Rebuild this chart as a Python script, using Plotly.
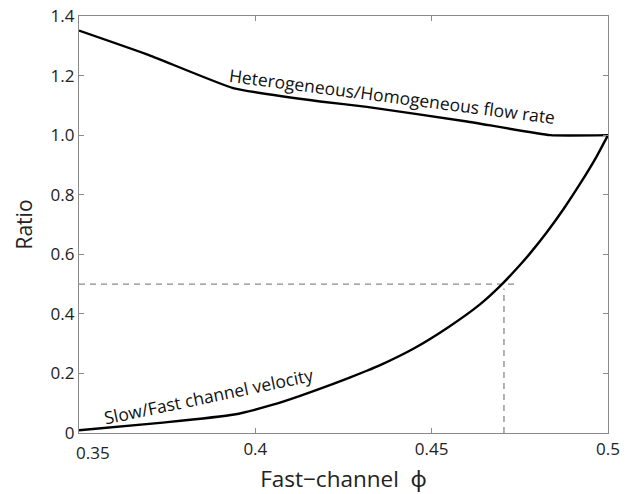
import plotly.graph_objects as go

# Heterogeneous/Homogeneous flow rate ratio
flow_x = [0.35, 0.37, 0.3937, 0.4184, 0.4316, 0.46, 0.4836, 0.5]
flow_y = [1.351, 1.268, 1.158, 1.113, 1.095, 1.046, 1.0, 1.0]

# Slow/Fast channel velocity ratio
vel_x = [0.35, 0.373, 0.394, 0.405, 0.4127, 0.4221, 0.4316, 0.4354, 0.4448,
         0.4543, 0.4637, 0.4699, 0.4751, 0.4779, 0.4826, 0.4874, 0.4921,
         0.4968, 0.5]
vel_y = [0.009, 0.034, 0.062, 0.095, 0.125, 0.165, 0.209, 0.228, 0.283,
         0.352, 0.432, 0.499, 0.565, 0.603, 0.673, 0.752, 0.837,
         0.929, 1.0]

# reference dashed lines
ref_h_x = [0.35, 0.4737]
ref_h_y = [0.5, 0.5]
ref_v_x = [0.4705, 0.4705]
ref_v_y = [0.0, 0.485]

x_ticks = [0.35, 0.4, 0.45, 0.5]
x_tick_text = ["0.35", "0.4", "0.45", "0.5"]
y_ticks = [0, 0.2, 0.4, 0.6, 0.8, 1.0, 1.2, 1.4]
y_tick_text = ["0", "0.2", "0.4", "0.6", "0.8", "1.0", "1.2", "1.4"]

font_family = "Open Sans, Noto Sans, sans-serif"
tick_font = dict(family=font_family, size=17, color="#222")

fig = go.Figure()
fig.add_trace(go.Scatter(x=ref_h_x, y=ref_h_y, mode="lines",
                         line=dict(color="#8a8a8a", width=1.3, dash="6px,5px"),
                         hoverinfo="skip"))
fig.add_trace(go.Scatter(x=ref_v_x, y=ref_v_y, mode="lines",
                         line=dict(color="#8a8a8a", width=1.3, dash="6px,5px"),
                         hoverinfo="skip"))
fig.add_trace(go.Scatter(x=flow_x, y=flow_y, mode="lines",
                         line=dict(color="black", width=2.4, shape="spline", smoothing=0.4)))
fig.add_trace(go.Scatter(x=vel_x, y=vel_y, mode="lines",
                         line=dict(color="black", width=2.4, shape="spline", smoothing=0.6)))

fig.add_annotation(x=0.4388, y=1.133, xref="x", yref="y",
                   text="Heterogeneous/Homogeneous flow rate", showarrow=False,
                   textangle=7.4, font=dict(family=font_family, size=17.5, color="#111"))
fig.add_annotation(x=0.3866, y=0.124, xref="x", yref="y",
                   text="Slow/Fast channel velocity", showarrow=False,
                   textangle=-11.8, font=dict(family=font_family, size=17.5, color="#111"))

# first x tick label sits right of its tick in the reference
fig.add_annotation(x=x_ticks[0], y=0, xref="x", yref="paper",
                   xanchor="left", yanchor="top", xshift=-5, yshift=-6,
                   text=x_tick_text[0], showarrow=False, font=tick_font)

axis_common = dict(showgrid=False, zeroline=False, showline=True, linecolor="#8a8a8a",
                   linewidth=1.2, mirror="allticks", ticks="inside", ticklen=5,
                   tickcolor="#8a8a8a", tickwidth=1, automargin=False,
                   tickfont=tick_font)

fig.update_layout(
    width=627, height=494,
    margin=dict(l=79, r=19, t=16, b=61),
    paper_bgcolor="white", plot_bgcolor="white",
    showlegend=False,
    xaxis=dict(range=[0.35, 0.5], tickvals=x_ticks,
               ticktext=[""] + x_tick_text[1:],
               title=dict(text="Fast\u2212channel\u00a0\u00a0\u03d5", standoff=12,
                          font=dict(family=font_family, size=22.5, color="#222")),
               **axis_common),
    yaxis=dict(range=[0, 1.4], tickvals=y_ticks, ticktext=y_tick_text,
               title=dict(text="Ratio", standoff=12,
                          font=dict(family=font_family, size=21, color="#222")),
               **axis_common),
)

fig.write_html("out.html")
